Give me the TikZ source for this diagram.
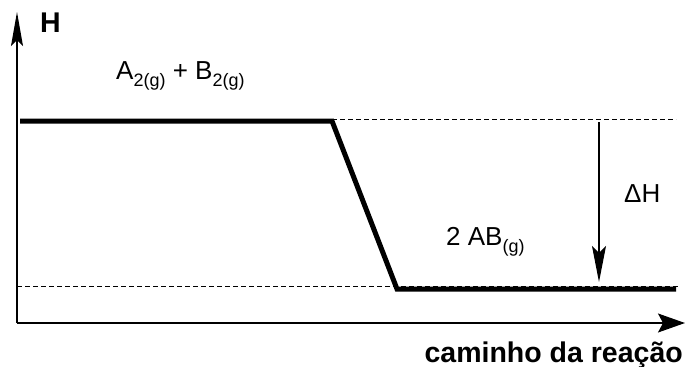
\documentclass[tikz,border=0pt]{standalone}
\usepackage{fontspec}
\setmainfont{Liberation Sans}
\usetikzlibrary{arrows.meta}
\tikzset{
  yaxis/.style={line width=1.3pt,-{Stealth[length=34pt,width=12pt,inset=6pt]}},
  xaxis/.style={line width=1.3pt,-{Stealth[length=27pt,width=19pt,inset=5pt]}},
  level/.style={line width=5pt,line join=miter},
  guide/.style={line width=0.9pt,dash pattern=on 5pt off 3pt},
  dharrow/.style={line width=1.2pt,-{Stealth[length=36pt,width=14pt,inset=7pt]}},
  lbl/.style={font=\fontsize{26}{30}\selectfont,inner sep=0pt},
  blbl/.style={font=\fontsize{28.5}{32}\selectfont\bfseries,inner sep=0pt}
}
\newcommand{\subs}[1]{\raisebox{-0.3em}{\fontsize{18}{20}\selectfont #1}}
\begin{document}
\begin{tikzpicture}[x=1pt,y=-1pt]
\useasboundingbox (0,0) rectangle (686,367);
\coordinate (O) at (17,323);
\coordinate (ytop) at (17,12);
\coordinate (xend) at (685,323);
\draw[yaxis] (O) -- (ytop);
\draw[xaxis] (O) -- (xend);
% dashed guides
\coordinate (ug1) at (332,119);
\coordinate (ug2) at (676,119);
\coordinate (lg1) at (17,286);
\coordinate (lg2) at (679,286);
\draw[guide] (ug1) -- (ug2);
\draw[guide] (lg1) -- (lg2);
% enthalpy path
\coordinate (p1) at (20,121);
\coordinate (p2) at (332,121);
\coordinate (p3) at (397,289);
\coordinate (p4) at (676,289);
\draw[level] (p1) -- (p2) -- (p3) -- (p4);
% delta H arrow
\coordinate (d1) at (599,122);
\coordinate (d2) at (599,282);
\draw[dharrow] (d1) -- (d2);
% labels
\node[blbl,anchor=base west] (H) at (40,32) {H};
\node[lbl,anchor=base west] (react) at (116,79) {A\subs{2(g)} + B\subs{2(g)}};
\node[lbl,anchor=base west] (prod) at (446,245) {2 AB\subs{(g)}};
\node[lbl,anchor=base west] (dH) at (624,202) {ΔH};
\node[blbl,anchor=base east] (xl) at (683,362) {caminho da reação};
\end{tikzpicture}
\end{document}
